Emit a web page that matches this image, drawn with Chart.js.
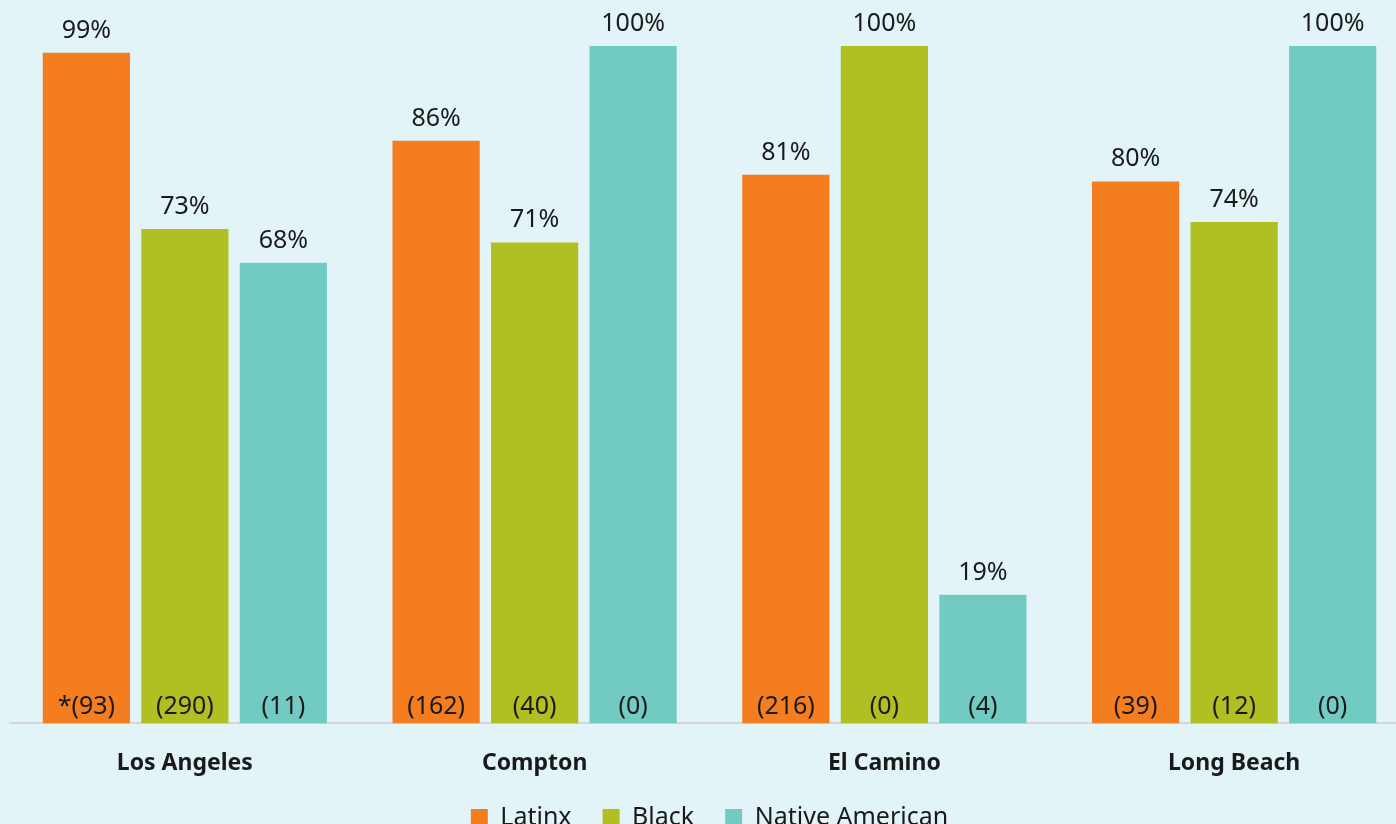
<!DOCTYPE html>
<html>
<head>
<meta charset="utf-8">
<title>Outcomes by district</title>
<script src="https://cdn.jsdelivr.net/npm/chart.js@4.4.1/dist/chart.umd.min.js"></script>
<style>
  html, body {
    margin: 0;
    padding: 0;
    overflow: hidden;
    background: #e2f4f7;
  }
  #wrap {
    position: relative;
    width: 1420px;
    height: 840px;
  }
</style>
</head>
<body>
<div id="wrap"><canvas id="chart"></canvas></div>
<script>
var CATEGORIES = ["Los Angeles", "Compton", "El Camino", "Long Beach"];
var SERIES_NAMES = ["Latinx", "Black", "Native American"];

var LATINX_PCT = [99, 86, 81, 80];
var BLACK_PCT = [73, 71, 100, 74];
var NATIVE_PCT = [68, 100, 19, 100];

var LATINX_COUNT = ["*(93)", "(162)", "(216)", "(39)"];
var BLACK_COUNT = ["(290)", "(40)", "(0)", "(12)"];
var NATIVE_COUNT = ["(11)", "(0)", "(4)", "(0)"];

(function () {
  var COLORS = ["#f47d20", "#b0bf22", "#72cbc3"];
  var TEXT = "#1a1a1a";
  var FONT = "'Noto Sans', 'Open Sans', sans-serif";

  var pcts = [LATINX_PCT, BLACK_PCT, NATIVE_PCT];
  var counts = [LATINX_COUNT, BLACK_COUNT, NATIVE_COUNT];

  // percent above each bar, count at the foot of each bar
  var barLabels = {
    id: "barLabels",
    afterDatasetsDraw: function (chart) {
      var ctx = chart.ctx;
      ctx.save();
      ctx.fillStyle = TEXT;
      ctx.textAlign = "center";
      ctx.textBaseline = "alphabetic";
      ctx.font = "25px " + FONT;
      chart.data.datasets.forEach(function (ds, i) {
        var meta = chart.getDatasetMeta(i);
        meta.data.forEach(function (bar, j) {
          ctx.fillText(ds.data[j] + "%", bar.x, bar.y - 15);
          ctx.fillText(counts[i][j], bar.x, bar.base - 9);
        });
      });
      ctx.restore();
    }
  };

  // the x scale was shrunk in afterFit; give its labels room again so descenders aren't clipped
  var labelRoom = {
    id: "labelRoom",
    afterLayout: function (chart) {
      chart.scales.x.bottom += 14;
    }
  };

  new Chart(document.getElementById("chart"), {
    type: "bar",
    data: {
      labels: CATEGORIES,
      datasets: SERIES_NAMES.map(function (name, i) {
        return {
          label: name,
          data: pcts[i],
          backgroundColor: COLORS[i],
          borderWidth: 0,
          categoryPercentage: 0.845,
          barPercentage: 0.885
        };
      })
    },
    options: {
      responsive: true,
      maintainAspectRatio: false,
      animation: false,
      layout: { padding: { top: 46, left: 10, right: 11, bottom: 0 } },
      plugins: {
        tooltip: { enabled: false },
        legend: {
          position: "bottom",
          labels: {
            color: TEXT,
            font: { family: FONT, size: 25 },
            boxWidth: 17,
            boxHeight: 17,
            padding: 31
          }
        }
      },
      scales: {
        x: {
          grid: { display: false, drawTicks: false },
          border: { display: true, color: "#d6d6d6", width: 2 },
          ticks: {
            color: TEXT,
            padding: 26,
            font: { family: FONT, size: 23, weight: "bold" }
          },
          afterFit: function (scale) {
            // let the plot reach down closer to the legend
            scale.height -= 29;
          }
        },
        y: {
          display: false,
          min: 0,
          max: 100
        }
      }
    },
    plugins: [barLabels, labelRoom]
  });
})();
</script>
</body>
</html>
